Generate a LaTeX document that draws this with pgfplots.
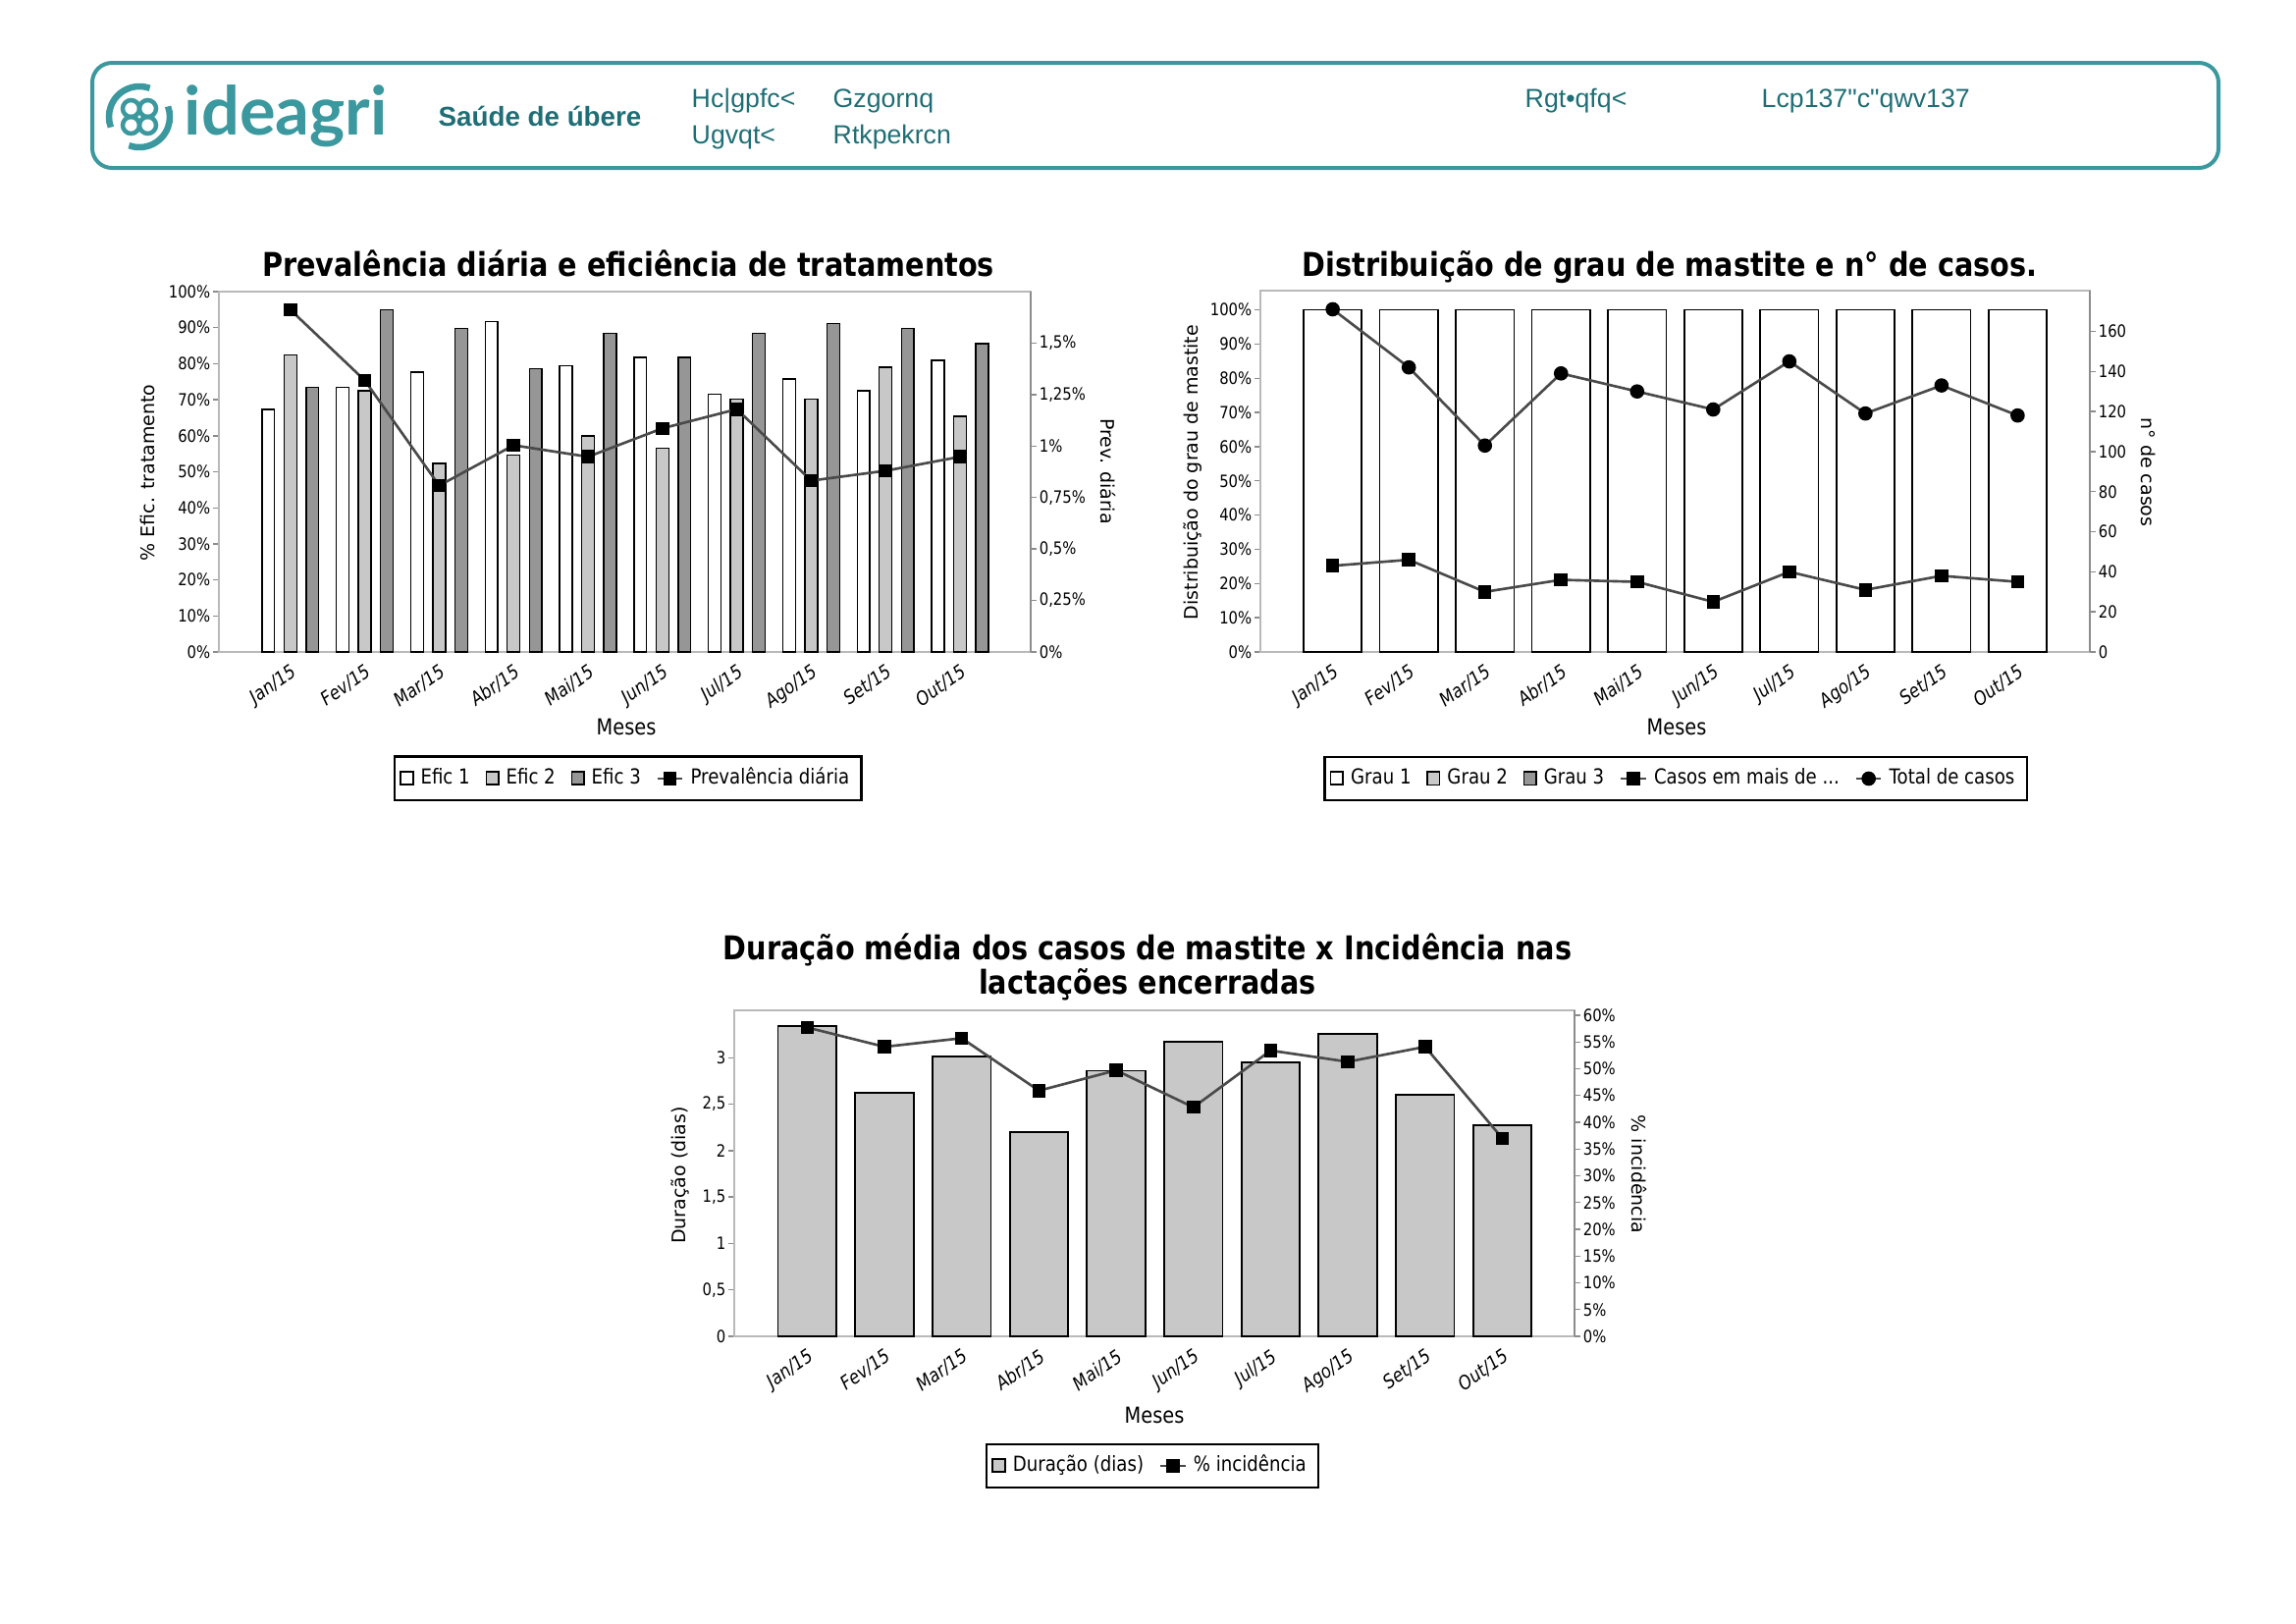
\documentclass[border=0pt]{standalone}
\usepackage{fontspec}
\usepackage{pgfplots}
\pgfplotsset{compat=1.18}
\setmainfont{DejaVu Sans}
\newfontfamily\condf[FakeStretch=0.86]{DejaVu Sans}
\newfontfamily\hdrf{Liberation Sans}
\newfontfamily\logof{Lato}
\definecolor{teal1}{HTML}{3A989E}
\definecolor{teal2}{HTML}{1F6E75}
\definecolor{lgray}{HTML}{C8C8C8}
\definecolor{dgray}{HTML}{969696}
\definecolor{lcol}{HTML}{4A4A4A}
\definecolor{framec}{HTML}{B9B9B9}
\definecolor{axc}{HTML}{8C8C8C}
\newcommand{\tickfont}{\condf\fontsize{4.9}{5}\selectfont}
\newcommand{\xtickfont}{\condf\itshape\fontsize{5.5}{6}\selectfont}
\newcommand{\legfont}{\condf\fontsize{6.0}{6.5}\selectfont}
\newcommand{\labfont}{\fontsize{5.4}{6}\selectfont}
\newcommand{\mesfont}{\condf\fontsize{6.4}{7}\selectfont}
\newcommand{\titfont}{\condf\bfseries\fontsize{9.5}{10}\selectfont}
\newcommand{\hdrfont}{\hdrf\fontsize{7.6}{8}\selectfont}
\pgfplotsset{
  /pgf/number format/assume math mode=true,
  base/.style={
    scale only axis, anchor=south west,
    tick label style={font=\tickfont},
    y tick label style={inner xsep=0.6pt},
    tick align=outside, major tick length=0.6mm,
    ytick style={draw=axc, line width=0.4pt},
    xtick style={draw=none},
  },
  leftax/.style={base,
    axis line style={draw=framec, line width=0.6pt},
    xtick={0,...,9},
    xticklabels={Jan/15,Fev/15,Mar/15,Abr/15,Mai/15,Jun/15,Jul/15,Ago/15,Set/15,Out/15},
    x tick label style={rotate=35, anchor=north east, font=\xtickfont, inner sep=1pt},
    xtick pos=bottom, ytick pos=left,
    legend columns=-1,
    legend style={draw=black, line width=0.6pt, font=\legfont, inner xsep=1.5pt, inner ysep=1.2pt,
      /tikz/every even column/.append style={column sep=2.5pt}},
  },
  rightax/.style={base,
    axis x line=none, axis y line*=right,
    axis line style={draw=axc, line width=0.6pt, -},
    ytick pos=right,
  },
  sqleg/.style={legend image code/.code={\draw[##1] (0pt,-1.8pt) rectangle (3.6pt,2.0pt);}},
  lineleg/.style={legend image code/.code={\draw[mark repeat=2,mark phase=2,##1] plot coordinates {(0pt,0pt) (3.6pt,0pt) (7.2pt,0pt)};}},
  sqline/.style={lcol, line width=0.75pt, mark=square*, mark size=1.55pt, mark options={solid, fill=black, draw=black}},
  circline/.style={lcol, line width=0.75pt, mark=*, mark size=1.7pt, mark options={solid, fill=black, draw=black}},
}
\begin{document}
\begin{tikzpicture}
\useasboundingbox (0,0) rectangle (23.39cm,-16.53cm);
\fill[white] (0,0) rectangle (23.39cm,-16.53cm);

% ---------- header ----------
\draw[teal1, line width=0.4mm, rounded corners=2mm] (0.94cm,-0.64cm) rectangle (22.60cm,-1.71cm);
\draw[teal1, line width=0.65mm] (1.42cm,-1.19cm) ++(70:0.31cm) arc (70:200:0.31cm);
\draw[teal1, line width=0.65mm] (1.42cm,-1.19cm) ++(250:0.31cm) arc (250:380:0.31cm);
\foreach \dx/\dy in {0.085/0.085,-0.085/0.085,0.085/-0.085,-0.085/-0.085}
  \draw[teal1, line width=0.45mm] (1.42cm+\dx cm,-1.19cm+\dy cm) circle (0.085cm);
\node[anchor=base west, inner sep=0, text=teal1, font=\logof\bfseries\fontsize{19.5}{20}\selectfont] at (1.87cm,-1.37cm) {ideagri};
\node[anchor=base, inner sep=0, text=teal2, font=\hdrf\bfseries\fontsize{7.9}{8}\selectfont] at (5.50cm,-1.285cm) {Saúde de úbere};
\node[anchor=base west, inner sep=0, text=teal2, font=\hdrfont] at (7.04cm,-1.095cm) {Hc|gpfc<};
\node[anchor=base west, inner sep=0, text=teal2, font=\hdrfont] at (8.48cm,-1.095cm) {Gzgornq};
\node[anchor=base west, inner sep=0, text=teal2, font=\hdrfont] at (7.04cm,-1.465cm) {Ugvqt<};
\node[anchor=base west, inner sep=0, text=teal2, font=\hdrfont] at (8.48cm,-1.465cm) {Rtkpekrcn};
\node[anchor=base west, inner sep=0, text=teal2, font=\hdrfont] at (15.53cm,-1.095cm) {Rgt•qfq<};
\node[anchor=base west, inner sep=0, text=teal2, font=\hdrfont] at (17.94cm,-1.095cm) {Lcp137"c"qwv137};

% ---------- chart 1 ----------
\begin{axis}[leftax, at={(2.23cm,-6.64cm)}, width=8.27cm, height=3.67cm,
  xmin=-0.96, xmax=9.95, ymin=0, ymax=100, ytick={0,10,...,100},
  yticklabel={\pgfmathprintnumber{\tick}\%},
  legend style={at={(0.504,-0.351)}, anchor=center}]
\addplot[ybar, bar width=0.17, bar shift=-0.297, fill=white, draw=black, line width=0.4pt, sqleg]
  coordinates {(0,67.3) (1,73.4) (2,77.7) (3,91.7) (4,79.5) (5,81.8) (6,71.6) (7,75.7) (8,72.5) (9,80.9)};
\addlegendentry{Efic 1}
\addplot[ybar, bar width=0.17, bar shift=0, fill=lgray, draw=black, line width=0.4pt, sqleg]
  coordinates {(0,82.4) (1,72.5) (2,52.3) (3,54.6) (4,59.9) (5,56.5) (6,70.2) (7,70.2) (8,79.0) (9,65.4)};
\addlegendentry{Efic 2}
\addplot[ybar, bar width=0.17, bar shift=0.297, fill=dgray, draw=black, line width=0.4pt, sqleg]
  coordinates {(0,73.4) (1,95.0) (2,89.8) (3,78.6) (4,88.4) (5,81.7) (6,88.4) (7,91.2) (8,89.8) (9,85.6)};
\addlegendentry{Efic 3}
\addlegendimage{sqline, lineleg}
\addlegendentry{Prevalência diária}
\end{axis}
\begin{axis}[rightax, at={(2.23cm,-6.64cm)}, width=8.27cm, height=3.67cm,
  xmin=-0.96, xmax=9.95, ymin=0, ymax=1.75, ytick={0,0.25,...,1.5},
  yticklabel={\pgfmathprintnumber[use comma]{\tick}\%}]
\addplot[sqline] coordinates {(0,1.662) (1,1.319) (2,0.808) (3,1.004) (4,0.948) (5,1.086) (6,1.179) (7,0.832) (8,0.880) (9,0.948)};
\end{axis}

% ---------- chart 2 ----------
\begin{axis}[leftax, at={(12.84cm,-6.64cm)}, width=8.45cm, height=3.68cm,
  xmin=-0.95, xmax=9.95, ymin=0, ymax=105.6, ytick={0,10,...,100},
  yticklabel={\pgfmathprintnumber{\tick}\%},
  legend style={at={(0.5006,-0.3505)}, anchor=center}]
\addplot[ybar, bar width=0.765, bar shift=0, fill=white, draw=black, line width=0.5pt, sqleg]
  coordinates {(0,100) (1,100) (2,100) (3,100) (4,100) (5,100) (6,100) (7,100) (8,100) (9,100)};
\addlegendentry{Grau 1}
\addlegendimage{fill=lgray, draw=black, line width=0.4pt, sqleg}
\addlegendentry{Grau 2}
\addlegendimage{fill=dgray, draw=black, line width=0.4pt, sqleg}
\addlegendentry{Grau 3}
\addlegendimage{sqline, lineleg}
\addlegendentry{Casos em mais de ...}
\addlegendimage{circline, lineleg}
\addlegendentry{Total de casos}
\end{axis}
\begin{axis}[rightax, at={(12.84cm,-6.64cm)}, width=8.45cm, height=3.68cm,
  xmin=-0.95, xmax=9.95, ymin=0, ymax=180.3, ytick={0,20,...,160}]
\addplot[sqline] coordinates {(0,43) (1,46) (2,30) (3,36) (4,35) (5,25) (6,40) (7,31) (8,38) (9,35)};
\addplot[circline] coordinates {(0,171) (1,142) (2,103) (3,139) (4,130) (5,121) (6,145) (7,119) (8,133) (9,118)};
\end{axis}

% ---------- chart 3 ----------
\begin{axis}[leftax, at={(7.48cm,-13.61cm)}, width=8.56cm, height=3.32cm,
  xmin=-0.945, xmax=9.935, ymin=0, ymax=3.51, ytick={0,0.5,...,3},
  yticklabel={\pgfmathprintnumber[use comma]{\tick}},
  legend style={at={(0.4977,-0.3976)}, anchor=center}]
\addplot[ybar, bar width=0.757, bar shift=0, fill=lgray, draw=black, line width=0.5pt, sqleg]
  coordinates {(0,3.34) (1,2.62) (2,3.01) (3,2.20) (4,2.86) (5,3.17) (6,2.95) (7,3.26) (8,2.60) (9,2.27)};
\addlegendentry{Duração (dias)}
\addlegendimage{sqline, lineleg}
\addlegendentry{\% incidência}
\end{axis}
\begin{axis}[rightax, at={(7.48cm,-13.61cm)}, width=8.56cm, height=3.32cm,
  xmin=-0.945, xmax=9.935, ymin=0, ymax=60.9, ytick={0,5,...,60},
  yticklabel={\pgfmathprintnumber{\tick}\%}]
\addplot[sqline] coordinates {(0,57.7) (1,54.1) (2,55.7) (3,45.9) (4,49.7) (5,42.8) (6,53.4) (7,51.3) (8,54.1) (9,37.0)};
\end{axis}

% ---------- titles and labels ----------
\node[anchor=base, inner sep=0, font=\titfont] at (6.40cm,-2.81cm) {Prevalência diária e eficiência de tratamentos};
\node[anchor=base, inner sep=0, font=\titfont] at (17.01cm,-2.81cm) {Distribuição de grau de mastite e n° de casos.};
\node[anchor=base, inner sep=0, font=\titfont] at (11.69cm,-9.773cm) {Duração média dos casos de mastite x Incidência nas};
\node[anchor=base, inner sep=0, font=\titfont] at (11.69cm,-10.123cm) {lactações encerradas};

\node[rotate=90, inner sep=0, font=\labfont] at (1.50cm,-4.815cm) {\% Efic. tratamento};
\node[rotate=-90, inner sep=0, font=\labfont] at (11.29cm,-4.80cm) {Prev. diária};
\node[rotate=90, inner sep=0, font=\labfont] at (12.15cm,-4.81cm) {Distribuição do grau de mastite};
\node[rotate=-90, inner sep=0, font=\labfont] at (21.89cm,-4.81cm) {n° de casos};
\node[rotate=90, inner sep=0, font=\labfont] at (6.93cm,-11.97cm) {Duração (dias)};
\node[rotate=-90, inner sep=0, font=\labfont] at (16.70cm,-11.96cm) {\% incidência};

\node[anchor=base, inner sep=0, font=\mesfont] at (6.38cm,-7.48cm) {Meses};
\node[anchor=base, inner sep=0, font=\mesfont] at (17.08cm,-7.48cm) {Meses};
\node[anchor=base, inner sep=0, font=\mesfont] at (11.76cm,-14.49cm) {Meses};
\end{tikzpicture}
\end{document}
